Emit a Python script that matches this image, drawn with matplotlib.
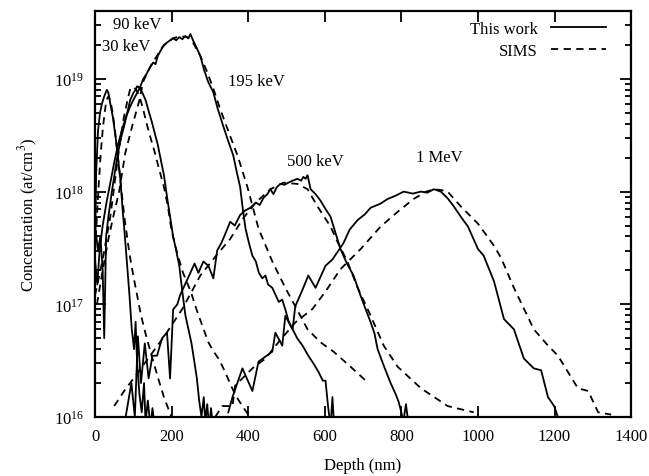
import matplotlib
matplotlib.use("Agg")
import matplotlib.pyplot as plt
from matplotlib.ticker import LogLocator, NullFormatter, MultipleLocator

plt.rcParams["font.family"] = ["Liberation Serif", "DejaVu Serif"]
plt.rcParams["mathtext.fontset"] = "stix"
plt.rcParams["font.size"] = 12

# ---- data: depth (nm) and concentration (at/cm^3) ----
# 30 keV
x30_calc = [0, 3, 8, 13, 18, 24, 31, 35, 40, 47, 54, 60, 66, 72, 78, 84, 90, 96,
            102, 106, 110, 116, 122, 128, 132, 138, 145, 150, 156]
c30_calc = [3e17, 1.5e18, 3.5e18, 5e18, 6e18, 7e18, 8e18, 7.5e18, 6e18, 4.5e18,
            3e18, 2e18, 1.3e18, 7e17, 4e17, 2.2e17, 1.2e17, 6e16, 4e16, 7e16,
            3e16, 1.6e16, 1.1e16, 2e16, 9e15, 1.4e16, 8e15, 1.2e16, 8e15]
x30_sims = [0, 5, 10, 15, 20, 25, 30, 35, 40, 46, 52, 58, 64, 70, 78, 90, 100,
            110, 120, 135, 150, 165, 180, 195, 205]
c30_sims = [3e17, 6e17, 1.2e18, 2.2e18, 3.5e18, 5e18, 6.5e18, 7e18, 6.5e18,
            5e18, 3.5e18, 2.3e18, 1.5e18, 9.5e17, 5.5e17, 2.8e17, 1.8e17, 1.2e17,
            8e16, 5e16, 3.3e16, 2.2e16, 1.5e16, 1.1e16, 9e15]

# 90 keV
x90_calc = [0, 8, 14, 20, 24, 29, 35, 44, 52, 60, 68, 76, 84, 92, 100, 106, 110,
            116, 124, 132, 140, 148, 156, 164, 172, 180, 188, 196, 204, 212, 220,
            228, 236, 244, 252, 260, 266, 272, 278, 284, 288, 293, 298, 303, 308]
c90_calc = [5e17, 3e17, 4e17, 2e17, 5e16, 4e17, 6e17, 1e18, 1.5e18, 2.2e18, 3e18,
            3.8e18, 5e18, 6.5e18, 7.5e18, 8e18, 8.6e18, 8.4e18, 7.5e18, 6.5e18,
            5.2e18, 4.2e18, 3.3e18, 2.6e18, 1.9e18, 1.4e18, 9e17, 6e17, 4e17,
            3e17, 2.2e17, 1.3e17, 8e16, 6e16, 4.5e16, 3e16, 2.2e16, 1.4e16, 1e16,
            1.5e16, 9e15, 1.3e16, 8e15, 1.2e16, 8e15]
x90_sims = [0, 20, 40, 55, 65, 75, 85, 92, 100, 108, 116, 125, 135, 145, 155,
            167, 180, 190, 200, 215, 230, 250, 265, 280, 296, 310, 325, 340, 355,
            370, 385, 400]
c90_sims = [1.2e17, 2.5e17, 6e17, 1.5e18, 2.7e18, 4.5e18, 6.5e18, 8.2e18, 8.5e18,
            8e18, 7e18, 5.5e18, 4e18, 3e18, 2.3e18, 1.6e18, 1.1e18, 7.5e17, 4.5e17,
            2.8e17, 1.9e17, 1.3e17, 9e16, 6.5e16, 4.6e16, 3.8e16, 3.2e16, 2.5e16,
            1.9e16, 1.5e16, 1.25e16, 1.05e16]

# 195 keV
x195_calc = [0, 6, 12, 20, 30, 40, 50, 60, 70, 80, 90, 100, 110, 118, 126, 134,
             140, 146, 152, 158, 164, 172, 180, 188, 196, 204, 212, 220, 228, 236,
             244, 249, 256, 265, 275, 285, 295, 309, 320, 335, 348, 361, 370, 379,
             386, 393, 402, 411, 420, 428, 437, 445, 452, 463, 472, 480, 489, 497,
             506, 516, 528, 542, 557, 570, 584, 595, 602, 608, 612, 616, 620, 624]
c195_calc = [2.5e17, 1.5e17, 3e17, 5e17, 8e17, 1.2e18, 1.8e18, 2.6e18, 3.5e18,
             4.5e18, 5.5e18, 6.5e18, 7.5e18, 8.5e18, 1.0e19, 1.1e19, 1.2e19,
             1.3e19, 1.4e19, 1.35e19, 1.6e19, 1.8e19, 2.0e19, 2.1e19, 2.2e19,
             2.3e19, 2.2e19, 2.35e19, 2.25e19, 2.4e19, 2.3e19, 2.5e19, 2.2e19,
             1.9e19, 1.6e19, 1.2e19, 9.5e18, 7.6e18, 5.5e18, 3.8e18, 2.8e18,
             2.1e18, 1.5e18, 1.1e18, 7e17, 4.7e17, 3.5e17, 2.7e17, 2.4e17, 1.9e17,
             1.7e17, 1.8e17, 1.5e17, 1.4e17, 1.2e17, 1.05e17, 1.1e17, 9e16, 7e16,
             6e16, 5e16, 4.3e16, 3.5e16, 3e16, 2.5e16, 2.1e16, 2.1e16, 1.3e16,
             1e16, 9e15, 1.5e16, 9e15]
x195_sims = [5, 20, 35, 50, 63, 79, 97, 115, 126, 140, 150, 162, 175, 188, 205,
             222, 240, 256, 275, 293, 310, 327, 350, 372, 398, 427, 463, 497, 523,
             555, 589, 623, 667, 714]
c195_sims = [1e17, 2e17, 3.8e17, 6.5e17, 1e18, 2.2e18, 3.8e18, 6.3e18, 9.5e18,
             1.2e19, 1.4e19, 1.6e19, 1.9e19, 2.1e19, 2.3e19, 2.4e19, 2.35e19,
             2.1e19, 1.6e19, 1.15e19, 8e18, 5.4e18, 3.3e18, 2.1e18, 1.1e18, 4.7e17,
             2.4e17, 1.4e17, 9.6e16, 6e16, 4.6e16, 3.8e16, 2.8e16, 2e16]

# 500 keV
x500_calc = [80, 95, 104, 112, 120, 130, 140, 150, 162, 175, 188, 196, 204, 215,
             222, 235, 249, 260, 270, 283, 296, 309, 319, 330, 340, 353, 365, 379,
             392, 406, 420, 430, 440, 450, 458, 466, 475, 484, 495, 505, 516, 529,
             538, 544, 550, 555, 563, 576, 589, 602, 615, 628, 641, 658, 675, 694,
             707, 720, 730, 738, 755, 772, 785, 793, 800, 805, 812, 818]
c500_calc = [1e16, 2e16, 1e16, 5.2e16, 2e16, 4.5e16, 2.2e16, 3.5e16, 3.5e16, 5e16,
             5.6e16, 2.2e16, 9e16, 1e17, 1.2e17, 1.5e17, 1.9e17, 2.3e17, 1.9e17,
             2.4e17, 2.2e17, 1.7e17, 3e17, 3.5e17, 4.2e17, 5.4e17, 5e17, 6.2e17,
             6.8e17, 7.2e17, 8e17, 7.6e17, 8.8e17, 9.5e17, 1.05e18, 9.5e17, 1.1e18,
             1.17e18, 1.15e18, 1.2e18, 1.25e18, 1.3e18, 1.25e18, 1.35e18, 1.3e18,
             1.4e18, 1.05e18, 9.5e17, 8.3e17, 7e17, 6e17, 4.3e17, 3.1e17, 2.3e17,
             1.8e17, 1.18e17, 9e16, 6.9e16, 5.5e16, 4e16, 2.8e16, 2e16, 1.6e16,
             1.36e16, 1.1e16, 9e15, 1.3e16, 9e15]
x500_sims = [50, 76, 105, 144, 181, 228, 275, 320, 353, 387, 420, 458, 492, 529,
             555, 581, 615, 633, 659, 686, 720, 754, 790, 851, 921, 989]
c500_sims = [1.25e16, 1.7e16, 2.3e16, 3.5e16, 5.2e16, 9.1e16, 1.8e17, 2.8e17,
             3.8e17, 5.8e17, 8e17, 1.05e18, 1.2e18, 1.17e18, 1.05e18, 7.4e17,
             4.9e17, 3.6e17, 2.4e17, 1.4e17, 7.9e16, 4.3e16, 2.8e16, 1.8e16,
             1.25e16, 1.1e16]

# 1 MeV
x1m_calc = [348, 359, 385, 411, 427, 463, 471, 489, 497, 516, 523, 540, 557, 576,
            602, 620, 633, 649, 665, 686, 705, 720, 745, 764, 785, 806, 830, 851,
            868, 885, 903, 920, 937, 955, 974, 1000, 1015, 1042, 1068, 1094, 1120,
            1146, 1165, 1183, 1199, 1209]
c1m_calc = [1.1e16, 1.5e16, 2.7e16, 1.7e16, 3.1e16, 3.8e16, 5.6e16, 4.3e16,
            7.9e16, 6e16, 9.6e16, 1.3e17, 1.8e17, 1.4e17, 2.2e17, 2.5e17, 2.9e17,
            3.5e17, 4.6e17, 5.6e17, 6.3e17, 7.2e17, 7.8e17, 8.6e17, 9.2e17, 1e18,
            9.6e17, 1e18, 9.8e17, 1.05e18, 1e18, 8.8e17, 7.4e17, 6e17, 4.9e17,
            3.1e17, 2.7e17, 1.6e17, 7.4e16, 6e16, 3.3e16, 2.7e16, 2.6e16, 1.5e16,
            1.25e16, 1e16]
x1m_sims = [314, 332, 359, 366, 411, 445, 479, 523, 568, 602, 641, 694, 746, 790,
            832, 865, 885, 905, 921, 955, 1000, 1020, 1042, 1060, 1094, 1146, 1183,
            1209, 1261, 1288, 1314, 1348]
c1m_sims = [1e16, 1.25e16, 1.25e16, 1.9e16, 2.7e16, 3.3e16, 4.6e16, 6.9e16,
            9.1e16, 1.3e17, 2.05e17, 3.1e17, 4.9e17, 6.6e17, 8.6e17, 1e18, 1.05e18,
            1.03e18, 1e18, 7.4e17, 5.2e17, 4.2e17, 3.3e17, 2.6e17, 1.4e17, 6e16,
            4.3e16, 3.5e16, 1.8e16, 1.7e16, 1.1e16, 1.05e16]

calc_series = [(x30_calc, c30_calc), (x90_calc, c90_calc), (x195_calc, c195_calc),
               (x500_calc, c500_calc), (x1m_calc, c1m_calc)]
sims_series = [(x30_sims, c30_sims), (x90_sims, c90_sims), (x195_sims, c195_sims),
               (x500_sims, c500_sims), (x1m_sims, c1m_sims)]

energy_labels = ["90 keV", "30 keV", "195 keV", "500 keV", "1 MeV"]
label_x = [47, 18, 348, 502, 837]
label_y = [3.1e19, 1.95e19, 9.5e18, 1.86e18, 2.04e18]

fig = plt.figure(figsize=(6.49, 4.77), dpi=100)
ax = fig.add_axes([0.1464, 0.1237, 0.826, 0.851])

for i, (x, c) in enumerate(calc_series):
    ax.plot(x, c, color="black", lw=1.3, label="This work" if i == 0 else None)
for i, (x, c) in enumerate(sims_series):
    ax.plot(x, c, color="black", lw=1.3, dashes=(4, 3),
            label="SIMS" if i == 0 else None)

for lab, lx, ly in zip(energy_labels, label_x, label_y):
    ax.text(lx, ly, lab, ha="left", va="center", fontsize=12)

ax.set_yscale("log")
ax.set_xlim(0, 1400)
ax.set_ylim(1e16, 4e19)
ax.xaxis.set_major_locator(MultipleLocator(200))
ax.yaxis.set_major_locator(LogLocator(base=10, numticks=10))
ax.yaxis.set_minor_locator(LogLocator(base=10, subs=range(2, 10), numticks=20))
ax.yaxis.set_minor_formatter(NullFormatter())
ax.tick_params(which="both", direction="in", top=True, right=True, width=1.3,
               labelsize=12)
ax.tick_params(which="major", length=8)
ax.tick_params(which="minor", length=4.5)
ax.tick_params(axis="x", which="major", pad=8)
ax.tick_params(axis="y", which="major", pad=8)
for s in ax.spines.values():
    s.set_linewidth(1.6)

ax.set_xlabel("Depth (nm)", fontsize=12, labelpad=9)
ax.set_ylabel("Concentration (at/cm$^3$)", fontsize=12, labelpad=10)

ax.legend(loc="upper right", bbox_to_anchor=(0.975, 1.005), frameon=False,
          markerfirst=False, handlelength=3.3, fontsize=12, labelspacing=0.35,
          borderpad=0.2, handletextpad=0.8)

fig.savefig("out.png", dpi=100)
